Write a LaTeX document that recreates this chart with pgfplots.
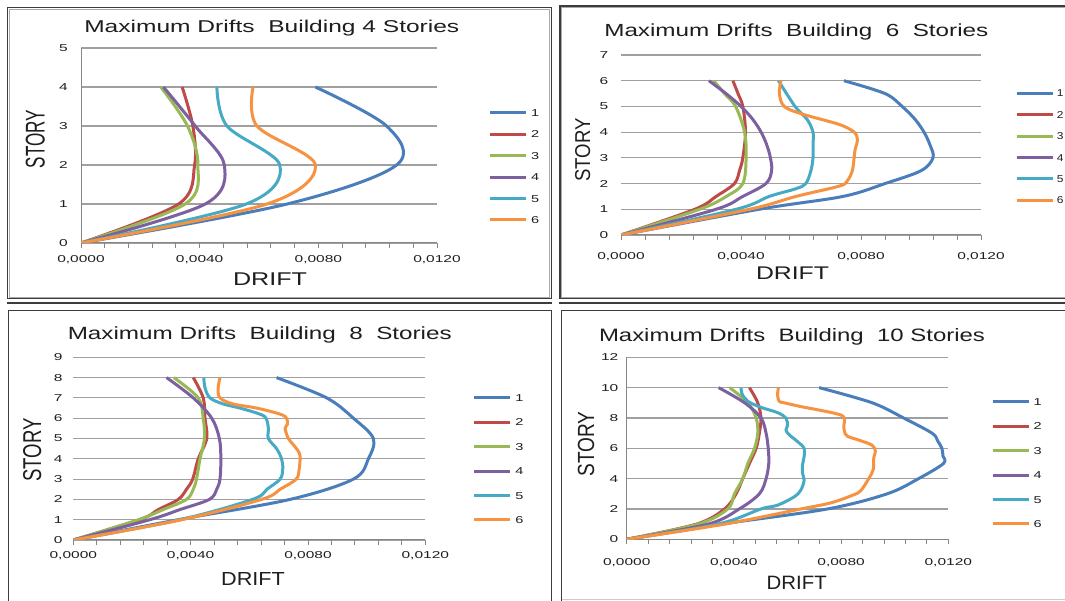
\documentclass[border=0pt]{standalone}
\usepackage{pgfplots}
\pgfplotsset{compat=1.18}
\usepackage{fontspec}
\setmainfont{Liberation Sans}
\definecolor{sA}{HTML}{4A7EBB}
\definecolor{sB}{HTML}{BE4B48}
\definecolor{sC}{HTML}{98B954}
\definecolor{sD}{HTML}{7D60A0}
\definecolor{sE}{HTML}{46AAC5}
\definecolor{sF}{HTML}{F69240}
\definecolor{axgray}{HTML}{868686}
\definecolor{gridgray}{HTML}{A0A0A0}
\definecolor{framedark}{HTML}{3C3C3C}
\definecolor{framegray}{HTML}{A8A8A8}
\definecolor{txt}{HTML}{1E1E1E}
\newcommand{\legtxt}[1]{\scalebox{1.45}[1]{#1}}
\newcommand{\legtxtb}[1]{\scalebox{1.2}[1]{#1}}

\pgfplotsset{
 panel/.style={
  scale only axis, anchor=south west,
  axis lines=left, axis line style={-, draw=axgray, line width=1pt},
  xmin=0, xmax=0.012, ymin=0,
  scaled x ticks=false,
  xtick={0,0.0008,0.0016,0.0024,0.0032,0.004,0.0048,0.0056,0.0064,0.0072,0.008,0.0088,0.0096,0.0104,0.0112,0.012},
  xticklabels={{0,0000},{},{},{},{},{0,0040},{},{},{},{},{0,0080},{},{},{},{},{0,0120}},
  tick align=outside, major tick length=5pt,
  xtick style={draw=axgray, line width=0.9pt},
  ytick style={draw=none},
  ymajorgrids, grid style={draw=gridgray, line width=1.1pt},
  /pgf/number format/assume math mode=true,
  tick label style={font=\fontsize{10}{12}\selectfont, text=txt, inner sep=0pt, xscale=1.55},
  xticklabel style={anchor=north},
  yticklabel style={anchor=east},
  legend image code/.code={\draw[##1, line width=3pt] (0pt,0pt) -- (36pt,0pt);},
  legend style={draw=none, fill=none, anchor=north west, inner sep=0pt, outer sep=0pt,
    column sep=3.5pt, font=\fontsize{10}{12}\selectfont, text=txt,
    nodes={inner sep=0pt, outer sep=0pt, text height=7.2pt, text depth=0pt}},
  legend cell align=left,
  every axis plot/.append style={line width=3pt, smooth, tension=0.55, line join=round, mark=none},
 }
}

\begin{document}
\begin{tikzpicture}
\useasboundingbox[fill=white] (0pt,0pt) rectangle (1065pt,601pt);
% frames
\draw[framedark, line width=1.1pt] (7.5pt,593.5pt) rectangle (551.3pt,302.5pt);
\draw[framegray, line width=0.8pt] (9pt,592pt) rectangle (549.8pt,304pt);
\draw[framedark, line width=1.1pt] (560pt,595pt) rectangle (1075pt,302.5pt);
\draw[framegray, line width=0.8pt] (561.5pt,593.5pt) rectangle (1075pt,304pt);
\draw[framedark, line width=1.1pt] (6.7pt,298pt) -- (552pt,298pt);
\draw[framedark, line width=1.1pt] (559pt,298pt) -- (1065pt,298pt);
\draw[framedark, line width=1.1pt] (8.3pt,-10pt) rectangle (551.3pt,290.3pt);
\draw[framedark, line width=1.1pt] (561.7pt,-10pt) -- (561.7pt,290.3pt) -- (1075pt,290.3pt);
\draw[framegray!60, line width=1pt] (561.7pt,1pt) -- (1065pt,1pt);

% ---------------- Panel 1: 4 stories
\begin{axis}[panel, at={(81pt,358pt)}, width=356pt, height=195pt,
  ymax=5, ytick={0,1,2,3,4,5},
  xticklabel style={yshift=-7.7pt}, yticklabel style={xshift=-5.2pt},
  legend style={at={(axis description cs:1.145,0.687)}, row sep=14.26pt}]
\addplot[sA] coordinates {(0,0) (0.00695,1) (0.01064,2) (0.0103,3) (0.0079,4)};
\addplot[sB] coordinates {(0,0) (0.00329,1) (0.00383,2) (0.00377,3) (0.00341,4)};
\addplot[sC] coordinates {(0,0) (0.00351,1) (0.00394,2) (0.00359,3) (0.00269,4)};
\addplot[sD] coordinates {(0,0) (0.00419,1) (0.00483,2) (0.00385,3) (0.00278,4)};
\addplot[sE] coordinates {(0,0) (0.00557,1) (0.0067,2) (0.00492,3) (0.00458,4)};
\addplot[sF] coordinates {(0,0) (0.00627,1) (0.0079,2) (0.00593,3) (0.0058,4)};
\legend{\legtxt{1},\legtxt{2},\legtxt{3},\legtxt{4},\legtxt{5},\legtxt{6}}
\end{axis}

% ---------------- Panel 2: 6 stories
\begin{axis}[panel, at={(621pt,366pt)}, width=360pt, height=180pt,
  ymax=7, ytick={0,1,2,3,4,5,6,7}, y axis line style={draw=none},
  xticklabel style={yshift=-12.2pt}, yticklabel style={xshift=-4.8pt},
  legend style={at={(axis description cs:1.0955,0.807)}, row sep=14.2pt, column sep=2.5pt}]
\addplot[sA] coordinates {(0,0) (0.0046,1) (0.0074,1.5) (0.0088,2) (0.0100,2.5) (0.0104,3) (0.0103,3.5) (0.0101,4) (0.0098,4.5) (0.00937,5) (0.0088,5.5) (0.00743,6)};
\addplot[sB] coordinates {(0,0) (0.00246,1) (0.00317,1.5) (0.00378,2) (0.00395,2.5) (0.00406,3) (0.00415,4) (0.00406,5) (0.0039,5.5) (0.00373,6)};
\addplot[sC] coordinates {(0,0) (0.00262,1) (0.00351,1.5) (0.00406,2) (0.00417,3) (0.00412,4) (0.00382,5) (0.00345,5.5) (0.00309,6)};
\addplot[sD] coordinates {(0,0) (0.00317,1) (0.00406,1.5) (0.00483,2) (0.00502,2.5) (0.00498,3) (0.00486,3.5) (0.00467,4) (0.00439,4.5) (0.0040,5) (0.0035,5.5) (0.00293,6)};
\addplot[sE] coordinates {(0,0) (0.00384,1) (0.00494,1.5) (0.00583,1.8) (0.00616,2) (0.00633,2.5) (0.0064,3) (0.0064,3.5) (0.0064,4) (0.0062,4.5) (0.0058,5) (0.00525,6)};
\addplot[sF] coordinates {(0,0) (0.00428,1) (0.00583,1.5) (0.00727,1.9) (0.00754,2.1) (0.00771,2.5) (0.00777,3) (0.0078,3.3) (0.00788,3.7) (0.00777,4) (0.00727,4.3) (0.00605,4.7) (0.00544,5) (0.00528,5.5) (0.00533,6)};
\legend{\legtxtb{1},\legtxtb{2},\legtxtb{3},\legtxtb{4},\legtxtb{5},\legtxtb{6}}
\end{axis}

% ---------------- Panel 3: 8 stories
\begin{axis}[panel, at={(73.3pt,61pt)}, width=352pt, height=182.7pt,
  ymax=9, ytick={0,1,2,3,4,5,6,7,8,9}, y axis line style={draw=none},
  xticklabel style={yshift=-6.5pt}, yticklabel style={xshift=-3.6pt},
  legend style={at={(axis description cs:1.1355,0.797)}, row sep=17.2pt}]
\addplot[sA] coordinates {(0,0) (0.00358,1) (0.00739,2) (0.00955,3) (0.01006,4) (0.01023,5) (0.00955,6) (0.00864,7) (0.00693,8)};
\addplot[sB] coordinates {(0,0) (0.00227,1) (0.0029,1.5) (0.00358,2) (0.00386,2.5) (0.00407,3) (0.00426,4) (0.00455,5) (0.00449,6) (0.00443,7) (0.00409,8)};
\addplot[sC] coordinates {(0,0) (0.00222,1) (0.00307,1.5) (0.00386,2) (0.00409,2.5) (0.0042,3) (0.00432,4) (0.00447,5) (0.00443,6) (0.00426,7) (0.00343,8)};
\addplot[sD] coordinates {(0,0) (0.00261,1) (0.00364,1.5) (0.00464,2) (0.00489,2.5) (0.005,3) (0.00503,4) (0.00498,5) (0.00472,6) (0.00409,7) (0.00318,8)};
\addplot[sE] coordinates {(0,0) (0.00364,1) (0.00611,2) (0.0066,2.5) (0.00705,3) (0.00714,3.5) (0.0071,4) (0.00693,4.5) (0.00665,5) (0.00665,5.5) (0.00657,6) (0.00636,6.2) (0.00568,6.5) (0.00511,6.7) (0.00466,7) (0.00449,7.5) (0.00445,8)};
\addplot[sF] coordinates {(0,0) (0.0037,1) (0.00642,2) (0.00705,2.5) (0.0076,3) (0.0077,3.5) (0.00773,4) (0.0077,4.3) (0.0075,4.7) (0.00733,5) (0.00722,5.5) (0.0073,5.7) (0.00727,6) (0.00705,6.2) (0.00625,6.5) (0.00545,6.7) (0.005,7) (0.00494,7.5) (0.005,8)};
\legend{\legtxt{1},\legtxt{2},\legtxt{3},\legtxt{4},\legtxt{5},\legtxt{6}}
\end{axis}

% ---------------- Panel 4: 10 stories
\begin{axis}[panel, at={(626.7pt,61.7pt)}, width=321.6pt, height=182pt,
  ymax=12, ytick={0,2,4,6,8,10,12},
  xticklabel style={yshift=-14.1pt}, yticklabel style={xshift=-2pt},
  legend style={at={(axis description cs:1.1328,0.776)}, row sep=17.26pt}]
\addplot[sA] coordinates {(0,0) (0.00353,1) (0.00749,2) (0.00972,3) (0.01089,4) (0.01182,5) (0.0118,5.5) (0.01176,6) (0.0116,6.5) (0.01139,7) (0.01033,8) (0.00916,9) (0.00718,10)};
\addplot[sB] coordinates {(0,0) (0.0026,1) (0.00365,2) (0.00408,3) (0.00433,4) (0.00458,5) (0.00483,6) (0.00495,7) (0.00501,8) (0.00489,9) (0.00458,10)};
\addplot[sC] coordinates {(0,0) (0.00266,1) (0.00377,2) (0.00402,3) (0.00433,4) (0.00452,5) (0.00477,6) (0.00489,7) (0.00483,8) (0.00452,9) (0.00384,10)};
\addplot[sD] coordinates {(0,0) (0.00303,1) (0.0042,2) (0.00495,3) (0.0052,4) (0.0053,5) (0.00528,6) (0.0052,7) (0.00501,8) (0.0044,9) (0.00343,10)};
\addplot[sE] coordinates {(0,0) (0.0034,1) (0.00501,2) (0.00563,2.25) (0.00625,2.8) (0.0065,3.25) (0.00662,3.9) (0.00656,4.35) (0.00656,4.9) (0.00662,5.45) (0.00662,6) (0.00637,6.45) (0.00606,6.9) (0.00594,7.2) (0.006,7.5) (0.00594,8) (0.00563,8.35) (0.00501,8.7) (0.00452,9.1) (0.0043,9.6) (0.00427,10)};
\addplot[sF] coordinates {(0,0) (0.00365,1) (0.0065,2) (0.00761,2.4) (0.00842,2.9) (0.00873,3.2) (0.00903,4) (0.0092,4.6) (0.00922,5.4) (0.00928,5.8) (0.00916,6.2) (0.00873,6.5) (0.00823,6.8) (0.00813,7.1) (0.0081,7.5) (0.00813,7.9) (0.00798,8.2) (0.00724,8.5) (0.0065,8.75) (0.00588,9) (0.00569,9.1) (0.00563,9.5) (0.00566,10)};
\legend{\legtxt{1},\legtxt{2},\legtxt{3},\legtxt{4},\legtxt{5},\legtxt{6}}
\end{axis}

% titles
\node[anchor=base, inner sep=0pt, text=txt] at (271.8pt,568.7pt) {\resizebox{375pt}{12.4pt}{Maximum Drifts\ \ Building 4 Stories}};
\node[anchor=base, inner sep=0pt, text=txt] at (796.3pt,564.3pt) {\resizebox{384pt}{12.7pt}{Maximum Drifts\ \ Building\ \ 6\ \ Stories}};
\node[anchor=base, inner sep=0pt, text=txt] at (259.8pt,261pt) {\resizebox{384pt}{12.8pt}{Maximum Drifts\ \ Building\ \ 8\ \ Stories}};
\node[anchor=base, inner sep=0pt, text=txt] at (792pt,259.3pt) {\resizebox{386pt}{13pt}{Maximum Drifts\ \ Building\ \ 10 Stories}};
% x labels
\node[anchor=base, inner sep=0pt, text=txt] at (270pt,315pt) {\resizebox{74pt}{12.7pt}{DRIFT}};
\node[anchor=base, inner sep=0pt, text=txt] at (792.5pt,321.7pt) {\resizebox{73pt}{12.6pt}{DRIFT}};
\node[anchor=base, inner sep=0pt, text=txt] at (253pt,15pt) {\resizebox{63.7pt}{13pt}{DRIFT}};
\node[anchor=base, inner sep=0pt, text=txt] at (796.7pt,11pt) {\resizebox{60pt}{13.3pt}{DRIFT}};
% y labels
\node[rotate=90, anchor=base, inner sep=0pt, text=txt] at (44.5pt,461.8pt) {\resizebox{58.3pt}{18.9pt}{STORY}};
\node[rotate=90, anchor=base, inner sep=0pt, text=txt] at (590pt,451pt) {\resizebox{63.3pt}{15pt}{STORY}};
\node[rotate=90, anchor=base, inner sep=0pt, text=txt] at (41pt,151pt) {\resizebox{63.4pt}{18pt}{STORY}};
\node[rotate=90, anchor=base, inner sep=0pt, text=txt] at (594pt,157pt) {\resizebox{65pt}{16.3pt}{STORY}};
\end{tikzpicture}
\end{document}
